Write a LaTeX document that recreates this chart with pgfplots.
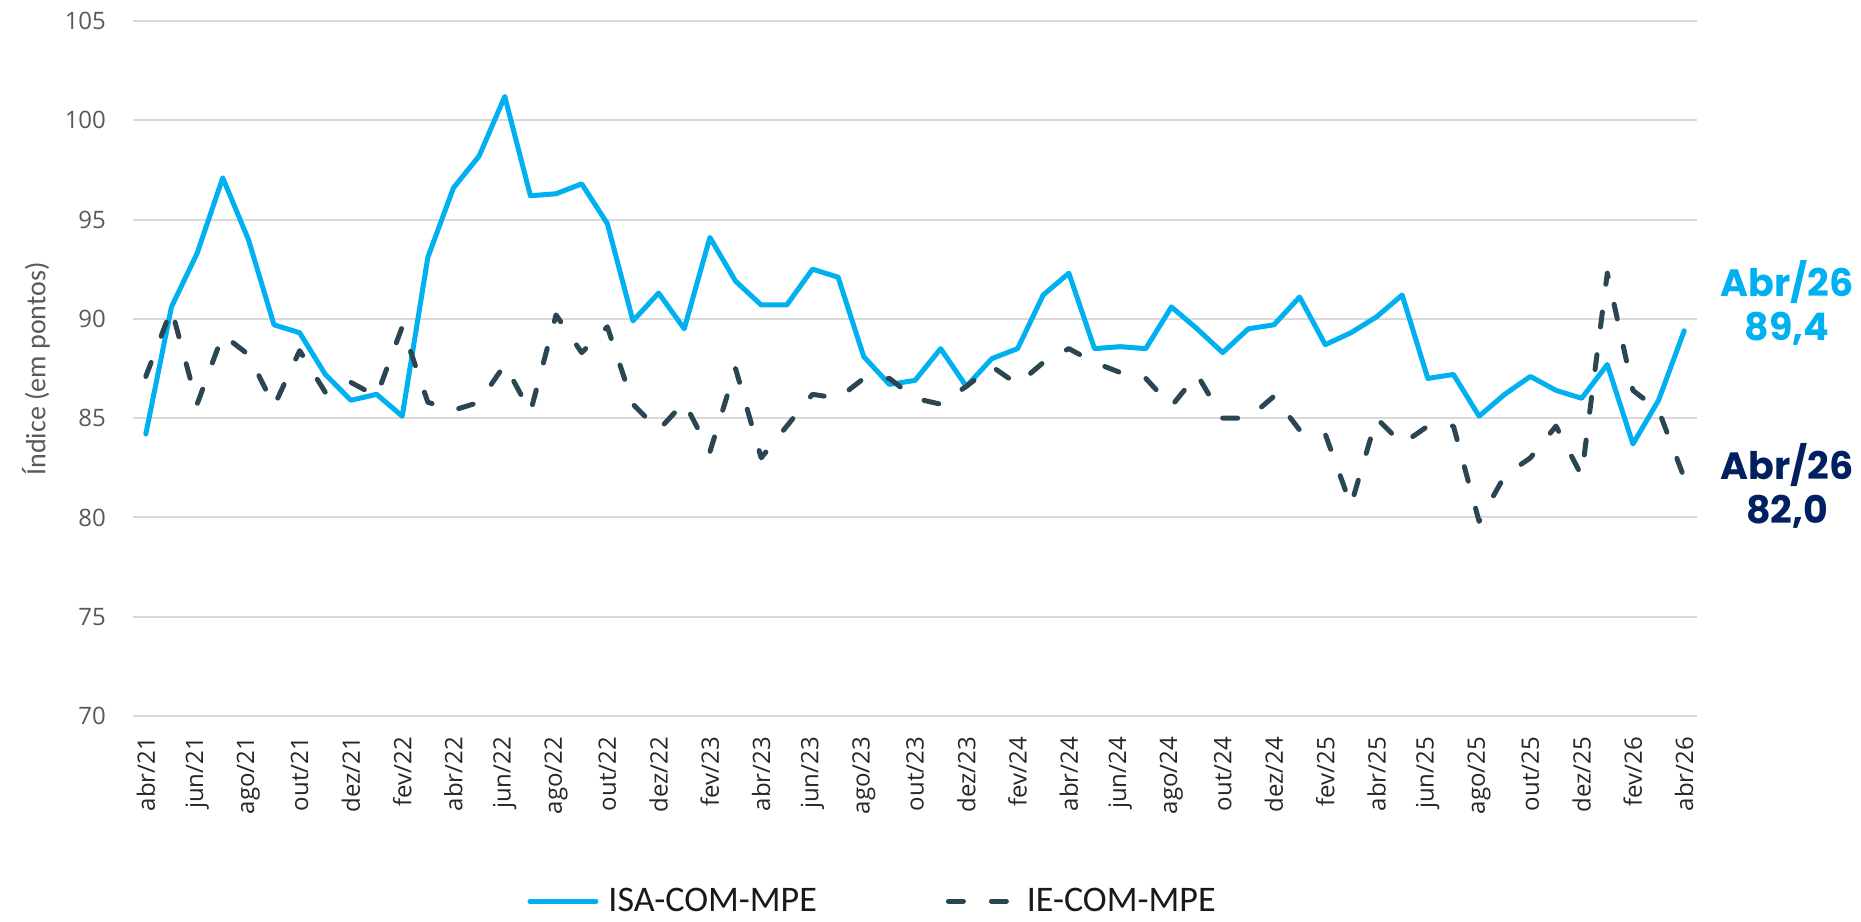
\documentclass[border=0pt]{standalone}
\usepackage{fontspec}
\setmainfont{Open Sans}
\newfontfamily\carlito{Carlito}
\newfontfamily\poppins{Poppins}
\usepackage{pgfplots}
\usepackage{pgfplotstable}
\pgfplotsset{compat=1.18}
\definecolor{isablue}{HTML}{00B0F0}
\definecolor{iedark}{HTML}{2B4652}
\definecolor{navy}{HTML}{002060}
\definecolor{gridgray}{HTML}{D9D9D9}
\definecolor{tickgray}{HTML}{595959}

\pgfplotstableread{
x isa ie
0 84.2 87.1
1 90.6 90.5
2 93.3 85.7
3 97.1 89.2
4 94.0 88.2
5 89.7 85.6
6 89.3 88.4
7 87.2 86.3
8 85.9 86.8
9 86.2 86.1
10 85.1 89.6
11 93.1 85.8
12 96.6 85.4
13 98.2 85.8
14 101.2 87.7
15 96.2 85.3
16 96.3 90.2
17 96.8 88.3
18 94.8 89.6
19 89.9 85.7
20 91.3 84.4
21 89.5 85.8
22 94.1 83.3
23 91.9 87.5
24 90.7 83.0
25 90.7 84.6
26 92.5 86.2
27 92.1 86.0
28 88.1 87.0
29 86.7 87.0
30 86.9 86.0
31 88.5 85.7
32 86.6 86.6
33 88.0 87.6
34 88.5 86.7
35 91.2 87.8
36 92.3 88.5
37 88.5 87.8
38 88.6 87.3
39 88.5 87.0
40 90.6 85.6
41 89.5 87.2
42 88.3 85.0
43 89.5 85.0
44 89.7 86.1
45 91.1 84.4
46 88.7 84.2
47 89.3 80.6
48 90.1 85.0
49 91.2 83.7
50 87.0 84.6
51 87.2 84.6
52 85.1 79.8
53 86.2 82.1
54 87.1 83.0
55 86.4 84.6
56 86.0 82.1
57 87.7 92.3
58 83.7 86.4
59 85.9 85.4
60 89.4 82.0
}\datatable

\begin{document}
\begin{tikzpicture}
\useasboundingbox (0,0) rectangle (930.5pt,460.5pt);
\begin{axis}[
  at={(66.5pt,102.5pt)}, anchor=south west,
  scale only axis, width=782pt, height=347.5pt,
  xmin=-0.5, xmax=60.5, ymin=70, ymax=105,
  ytick={70,75,...,105},
  xtick={0,2,...,60},
  xticklabels={abr/21,jun/21,ago/21,out/21,dez/21,fev/22,abr/22,jun/22,ago/22,out/22,dez/22,fev/23,abr/23,jun/23,ago/23,out/23,dez/23,fev/24,abr/24,jun/24,ago/24,out/24,dez/24,fev/25,abr/25,jun/25,ago/25,out/25,dez/25,fev/26,abr/26},
  axis line style={draw=none},
  major tick length=0pt,
  ymajorgrids,
  grid style={gridgray, line width=1pt},
  /pgf/number format/assume math mode=true,
  yticklabel style={font=\fontsize{12}{14}\selectfont, text=tickgray},
  yticklabel shift=10pt,
  xticklabel style={font=\fontsize{12}{14}\selectfont, text=black!85, rotate=90, anchor=east},
  xticklabel shift=7pt,
  legend columns=2,
  legend cell align=left,
  legend image code/.code={\draw[#1, line cap=round] (0pt,0pt) -- (33pt,0pt);},
  legend style={at={(axis description cs:0.4722,-0.2665)}, anchor=center,
    draw=none, fill=none, font=\carlito\fontsize{18}{20}\selectfont, text=black!90,
    column sep=5pt, nodes={inner sep=0pt},
    /tikz/every even column/.append style={column sep=64.5pt}},
]
\addplot[isablue, line width=2.5pt, line join=round, line cap=round] table[x=x, y=isa] {\datatable};
\addlegendentry{ISA-COM-MPE}
\addplot[iedark, line width=2.5pt, line join=round, line cap=round, dash pattern=on 7.5pt off 14pt] table[x=x, y=ie] {\datatable};
\addlegendentry{IE-COM-MPE}
\end{axis}
\node[rotate=90, font=\carlito\fontsize{14}{16}\selectfont, text=tickgray] at (18pt,276pt) {Índice (em pontos)};
\node[anchor=base, font=\poppins\bfseries\fontsize{19}{22}\selectfont, text=isablue] at (893.5pt,312.15pt) {Abr/26};
\node[anchor=base, font=\poppins\bfseries\fontsize{19}{22}\selectfont, text=isablue] at (893.5pt,290.15pt) {89,4};
\node[anchor=base, font=\poppins\bfseries\fontsize{19}{22}\selectfont, text=navy] at (893.5pt,220.5pt) {Abr/26};
\node[anchor=base, font=\poppins\bfseries\fontsize{19}{22}\selectfont, text=navy] at (893.5pt,198.8pt) {82,0};
\end{tikzpicture}
\end{document}
